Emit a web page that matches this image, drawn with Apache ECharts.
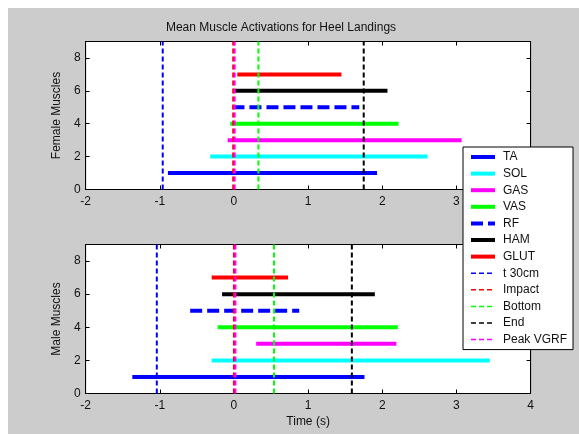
<!DOCTYPE html>
<html>
<head>
<meta charset="utf-8">
<script src="https://cdn.jsdelivr.net/npm/echarts@6/dist/echarts.min.js"></script>
<style>
html,body{margin:0;padding:0;background:#fff;}
#c{position:absolute;left:0;top:0;width:579px;height:434px;
background:linear-gradient(#cccccc,#cccccc) no-repeat 8px 8px / 571px 426px, #fff;}
</style>
</head>
<body>
<div id="c"></div>
<script>
const muscles = ['TA','SOL','GAS','VAS','RF','HAM','GLUT'];
const muscleRows = [1,2,3,4,5,6,7];
const femaleStart = [-0.89,-0.32,-0.085,-0.05,-0.02,0.01,0.045];
const femaleEnd   = [1.93,2.61,3.07,2.22,1.69,2.07,1.45];
const maleStart   = [-1.37,-0.30,0.30,-0.22,-0.59,-0.16,-0.30];
const maleEnd     = [1.76,3.45,2.19,2.21,0.88,1.90,0.73];
const events = ['t 30cm','Impact','Bottom','End','Peak VGRF'];
const femaleEvents = [-0.96,-0.01,0.33,1.75,0.01];
const maleEvents   = [-1.04,0.0,0.54,1.59,0.02];
const xTicks = [-2,-1,0,1,2,3,4];
const yTicks = [0,2,4,6,8];

const muscleColors = ['#0000ff','#00ffff','#ff00ff','#00ff00','#0000ff','#000000','#ff0000'];
const muscleDash = ['solid','solid','solid','solid',[12,5],'solid','solid'];
const eventColors = ['#0000ff','#ff0000','#00ff00','#000000','#ff00ff'];

const chart = echarts.init(document.getElementById('c'), null, {renderer:'canvas'});
const font = 'Liberation Sans, Arial, sans-serif';
const grids = [
  {left:85.6, top:41.5, width:445, height:148},
  {left:85.6, top:244.5, width:445, height:149}
];
function xAx(gi, pos, labels){
  return {type:'value', gridIndex:gi, position:pos, min:xTicks[0], max:xTicks[xTicks.length-1], interval:1,
    axisLine:{show:true, onZero:false, lineStyle:{color:'#000',width:1}},
    axisTick:{show:true, inside:true, length:4, lineStyle:{color:'#000'}},
    axisLabel:{show:labels, color:'#111', fontSize:12, fontFamily:font, margin:6},
    splitLine:{show:false},
    name: (labels && gi===1) ? 'Time (s)' : '', nameLocation:'middle', nameGap:22,
    nameTextStyle:{color:'#111', fontSize:12, fontFamily:font}};
}
function yAx(gi, pos, labels, name){
  return {type:'value', gridIndex:gi, position:pos, min:0, max:9, interval:2,
    axisLine:{show:true, onZero:false, lineStyle:{color:'#000',width:1}},
    axisTick:{show:true, inside:true, length:4, lineStyle:{color:'#000'}},
    axisLabel:{show:labels, color:'#111', fontSize:12, fontFamily:font, margin:5, showMaxLabel:false,
      formatter:v=> yTicks.includes(v) ? String(v) : ''},
    splitLine:{show:false},
    name:name||'', nameLocation:'middle', nameGap:18,
    nameTextStyle:{color:'#111', fontSize:12, fontFamily:font}};
}
const series = [];
function addPanel(gi, starts, ends, ev){
  muscles.forEach((m,i)=>{
    series.push({type:'line', name:m, xAxisIndex:gi, yAxisIndex:gi, symbol:'none', showSymbol:false,
      animation:false, silent:true, z:2,
      lineStyle:{color:muscleColors[i], width:4, type:muscleDash[i], cap:'butt'},
      itemStyle:{color:muscleColors[i]},
      data:[[starts[i], muscleRows[i]],[ends[i], muscleRows[i]]]});
  });
  events.forEach((e,i)=>{
    series.push({type:'line', name:e, xAxisIndex:gi, yAxisIndex:gi, symbol:'none', showSymbol:false,
      animation:false, silent:true, z:3,
      lineStyle:{color:eventColors[i], width:2, type:[5,3]},
      itemStyle:{color:eventColors[i]},
      data:[[ev[i],0],[ev[i],9]]});
  });
}
addPanel(0, femaleStart, femaleEnd, femaleEvents);
addPanel(1, maleStart, maleEnd, maleEvents);

const legendData = muscles.map((m,i)=>({name:m, lineStyle:{width:4, type:muscleDash[i]}}))
  .concat(events.map(e=>({name:e, lineStyle:{width:1.5, type:[5,3]}})));

chart.setOption({
  animation:false,
  title:{text:'Mean Muscle Activations for Heel Landings', left:276, top:17, textAlign:'center',
    textStyle:{fontSize:12, fontWeight:'normal', color:'#111', fontFamily:font}},
  grid: grids.map(g=>Object.assign({show:true, backgroundColor:'#fff', borderColor:'#000', borderWidth:1, containLabel:false}, g)),
  xAxis:[xAx(0,'bottom',true), xAx(1,'bottom',true), xAx(0,'top',false), xAx(1,'top',false)],
  yAxis:[yAx(0,'left',true,'Female Muscles'), yAx(1,'left',true,'Male Muscles'), yAx(0,'right',false), yAx(1,'right',false)],
  legend:{orient:'vertical', left:463, top:147, data:legendData,
    backgroundColor:'#fff', borderColor:'#000', borderWidth:1, borderRadius:0,
    padding:[4,6,4,6], itemWidth:24, itemHeight:12, itemGap:4.6, selectedMode:false,
    itemStyle:{opacity:0},
    textStyle:{fontSize:12, color:'#111', fontFamily:font, padding:[0,0,0,3]}},
  series: series
});
</script>
</body>
</html>
